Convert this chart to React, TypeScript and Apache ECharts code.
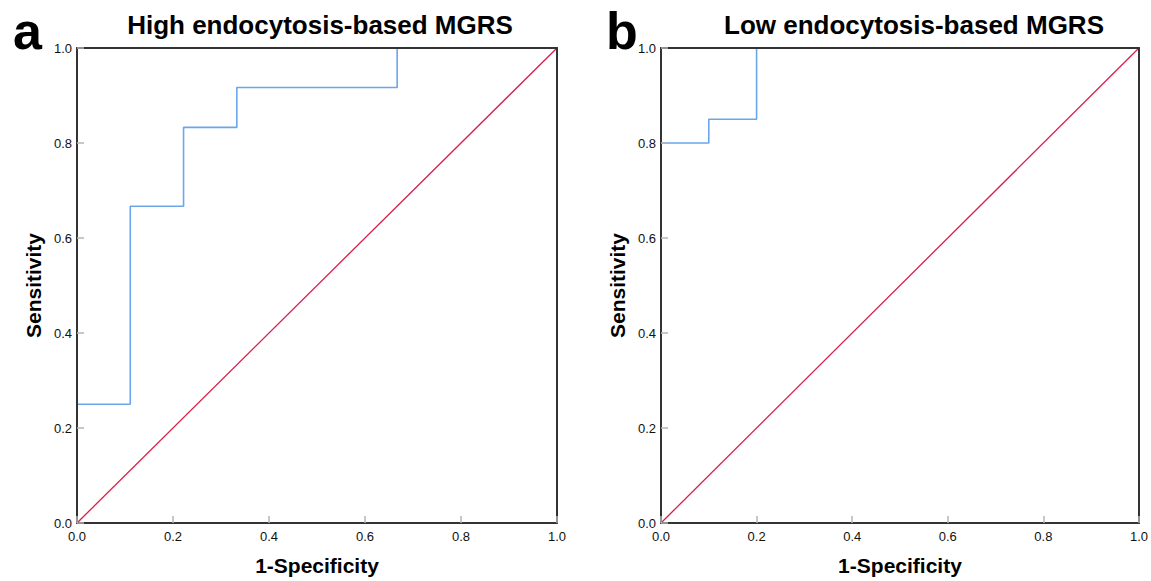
import React, { useEffect, useRef } from "react";
import * as echarts from "echarts";

const titles = ["High endocytosis-based MGRS", "Low endocytosis-based MGRS"];
const panelLetters = ["a", "b"];
const xAxisName = "1-Specificity";
const yAxisName = "Sensitivity";

// ROC step curves (1-Specificity, Sensitivity)
const rocHighX = [0, 0, 0.111, 0.111, 0.222, 0.222, 0.333, 0.333, 0.667, 0.667, 1];
const rocHighY = [0, 0.25, 0.25, 0.667, 0.667, 0.833, 0.833, 0.917, 0.917, 1, 1];
const rocLowX = [0, 0, 0.1, 0.1, 0.2, 0.2, 1];
const rocLowY = [0, 0.8, 0.8, 0.85, 0.85, 1, 1];
const refX = [0, 1];
const refY = [0, 1];

const zip = (xs: number[], ys: number[]) => xs.map((x, i) => [x, ys[i]]);

const FONT = "Liberation Sans, Arial, sans-serif";

export default function App() {
  const ref = useRef<HTMLDivElement>(null);
  useEffect(() => {
    const chart = echarts.init(ref.current!, null, { renderer: "svg" });
    const grids = [
      { left: 77, top: 48, width: 480, height: 479 },
      { left: 661, top: 48, width: 479, height: 479 },
    ];
    const axisCommon = {
      min: 0,
      max: 1,
      interval: 0.2,
      z: 10,
      nameLocation: "middle" as const,
      nameTextStyle: { fontFamily: FONT, fontSize: 21, fontWeight: "bold" as const, color: "#000" },
      axisLine: { show: true, onZero: false, lineStyle: { color: "#333", width: 2 } },
      axisTick: { show: true, inside: true, length: 7, lineStyle: { color: "#b5b5b5", width: 1.5 } },
      axisLabel: {
        fontFamily: FONT,
        fontSize: 13,
        color: "#111",
        formatter: (v: number) => v.toFixed(1),
      },
      splitLine: { show: false },
    };
    const borderAxis = {
      type: "value",
      min: 0,
      max: 1,
      z: 10,
      axisLine: { show: true, onZero: false, lineStyle: { color: "#333", width: 2 } },
      axisTick: { show: false },
      axisLabel: { show: false },
      splitLine: { show: false },
    };
    const titleStyle = { fontFamily: FONT, fontSize: 26, fontWeight: "bold", color: "#000" };
    const letterStyle = { fontFamily: FONT, fontSize: 52, fontWeight: "bold", color: "#000" };
    chart.setOption({
      animation: false,
      backgroundColor: "#fff",
      title: [
        { text: titles[0], left: 315, top: 7, textAlign: "center", textStyle: titleStyle },
        { text: titles[1], left: 909, top: 7, textAlign: "center", textStyle: titleStyle },
        { text: panelLetters[0], left: 8, top: 0, textStyle: letterStyle },
        { text: panelLetters[1], left: 601, top: 0, textStyle: letterStyle },
      ],
      grid: grids,
      xAxis: [
        ...[0, 1].map((i) => ({
          ...axisCommon,
          type: "value",
          gridIndex: i,
          name: xAxisName,
          nameGap: 32,
          axisLabel: { ...axisCommon.axisLabel, margin: 7 },
        })),
        { ...borderAxis, gridIndex: 0, position: "top" },
        { ...borderAxis, gridIndex: 1, position: "top" },
      ],
      yAxis: [
        ...[0, 1].map((i) => ({
          ...axisCommon,
          type: "value",
          gridIndex: i,
          name: yAxisName,
          nameGap: 33,
          axisLabel: { ...axisCommon.axisLabel, margin: 5 },
        })),
        { ...borderAxis, gridIndex: 0, position: "right" },
        { ...borderAxis, gridIndex: 1, position: "right" },
      ],
      series: [
        {
          type: "line",
          xAxisIndex: 0,
          yAxisIndex: 0,
          data: zip(refX, refY),
          showSymbol: false,
          lineStyle: { color: "#d81e4a", width: 1.3 },
          z: 2,
        },
        {
          type: "line",
          xAxisIndex: 0,
          yAxisIndex: 0,
          data: zip(rocHighX, rocHighY),
          showSymbol: false,
          lineStyle: { color: "#6aa7ea", width: 1.6 },
          z: 3,
        },
        {
          type: "line",
          xAxisIndex: 1,
          yAxisIndex: 1,
          data: zip(refX, refY),
          showSymbol: false,
          lineStyle: { color: "#d81e4a", width: 1.3 },
          z: 2,
        },
        {
          type: "line",
          xAxisIndex: 1,
          yAxisIndex: 1,
          data: zip(rocLowX, rocLowY),
          showSymbol: false,
          lineStyle: { color: "#6aa7ea", width: 1.6 },
          z: 3,
        },
      ],
    });
    return () => chart.dispose();
  }, []);
  return (
    <div
      ref={ref}
      style={{ position: "fixed", left: 0, top: 0, width: 1151, height: 581, background: "#fff" }}
    />
  );
}
